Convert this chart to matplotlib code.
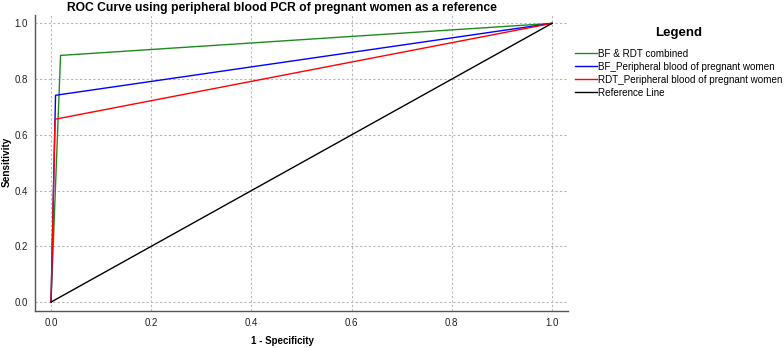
import matplotlib.pyplot as plt

plt.rcParams['font.family'] = ['Liberation Sans', 'DejaVu Sans']

# ROC points (1 - specificity, sensitivity)
combined_fpr = [0.0, 0.019, 1.0]
combined_tpr = [0.0, 0.885, 1.0]
bf_fpr = [0.0, 0.009, 1.0]
bf_tpr = [0.0, 0.742, 1.0]
rdt_fpr = [0.0, 0.008, 1.0]
rdt_tpr = [0.0, 0.656, 1.0]
ref_fpr = [0.0, 1.0]
ref_tpr = [0.0, 1.0]

series = [
    ("BF & RDT combined", combined_fpr, combined_tpr, "#1f8a1f"),
    ("BF_Peripheral blood of pregnant women", bf_fpr, bf_tpr, "#0000ff"),
    ("RDT_Peripheral blood of pregnant women", rdt_fpr, rdt_tpr, "#ff0000"),
    ("Reference Line", ref_fpr, ref_tpr, "#000000"),
]
ticks = [0.0, 0.2, 0.4, 0.6, 0.8, 1.0]

W, H = 784, 348
fig = plt.figure(figsize=(W / 100, H / 100), dpi=100)
ax = fig.add_axes([35 / W, 1 - 311 / H, (568 - 35) / W, (311 - 15) / H])

for name, x, y, c in series:
    ax.plot(x, y, color=c, lw=1.0, label=name)

ax.set_xlim(-0.032, 1.032)
ax.set_ylim(-0.032, 1.03)
ax.set_xticks(ticks)
ax.set_yticks(ticks)
ax.set_xticklabels([f"{t:.1f}" for t in ticks])
ax.set_yticklabels([f"{t:.1f}" for t in ticks])
ax.tick_params(length=0, labelsize=7, pad=5, colors="#222222")
ax.grid(True, color="#b8b8b8", linestyle=(0, (2, 2)), lw=0.8)
ax.set_axisbelow(True)
for s in ["top", "right"]:
    ax.spines[s].set_visible(False)
for s in ["left", "bottom"]:
    ax.spines[s].set_color("#555555")
    ax.spines[s].set_linewidth(1.0)

fig.text(282 / W, 1 - 8 / H, "ROC Curve using peripheral blood PCR of pregnant women as a reference",
         ha="center", va="center", fontsize=8.7, fontweight="bold")
fig.text(282 / W, 1 - 341 / H, "1 - Specificity", ha="center", va="center",
         fontsize=7, fontweight="bold")
fig.text(7 / W, 1 - 162 / H, "Sensitivity", ha="center", va="center",
         fontsize=7.2, fontweight="bold", rotation=90)

leg = ax.legend(loc="upper left", bbox_to_anchor=(570 / W, 1 - 22 / H),
                bbox_transform=fig.transFigure, frameon=False, fontsize=7.1,
                title="Legend", title_fontproperties={"weight": "bold", "size": 9.5},
                handlelength=2.2, handletextpad=0.1, labelspacing=0.3, borderpad=0)
leg._legend_box.align = "center"
leg._legend_box.sep = 7

fig.savefig("out.png", dpi=100)
